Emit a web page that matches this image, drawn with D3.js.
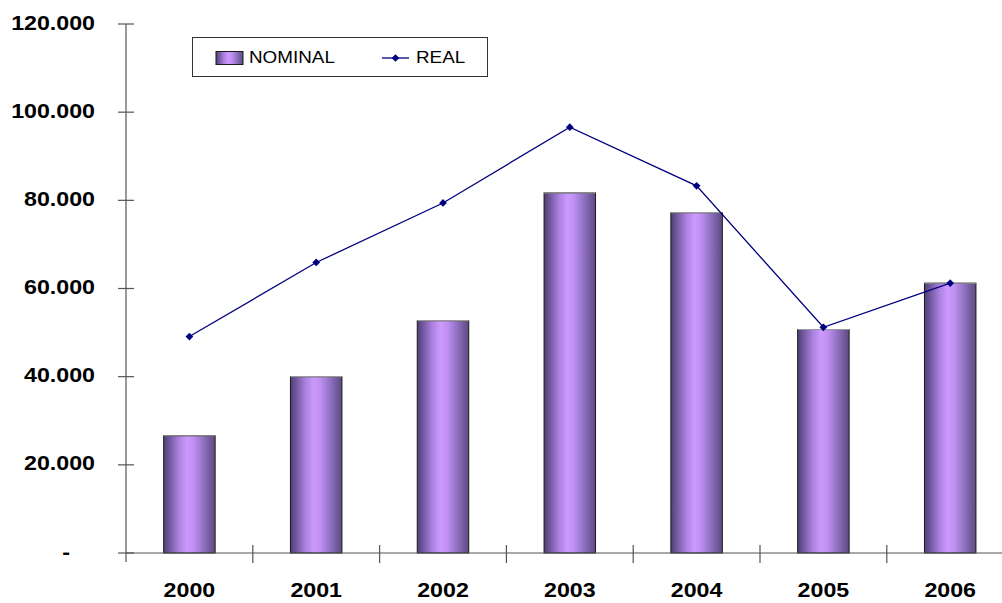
<!DOCTYPE html>
<html>
<head>
<meta charset="utf-8">
<script src="https://cdn.jsdelivr.net/npm/d3@7"></script>
<style>
  html, body { margin: 0; padding: 0; background: #fff; }
  svg { display: block; }
  text { font-family: Arial, "Liberation Sans", sans-serif; }
</style>
</head>
<body>
<svg id="chart" width="1002" height="603"></svg>
<script>
// Yearly values (thousands)
const years = ["2000", "2001", "2002", "2003", "2004", "2005", "2006"];
const nominal = [26.6, 40.0, 52.7, 81.7, 77.2, 50.7, 61.2];
const real = [49.1, 65.9, 79.4, 96.6, 83.3, 51.2, 61.2];
const yTicks = [0, 20, 40, 60, 80, 100, 120];
const yTickLabels = ["-", "20.000", "40.000", "60.000", "80.000", "100.000", "120.000"];
const seriesNames = ["NOMINAL", "REAL"];

const svg = d3.select("#chart");
const W = 1002, H = 603;
const x0 = 126, x1 = 1013.6, yTop = 24, yBottom = 553;
const axisColor = "#555";
const lineColor = "#00007f";
const stretch = 1.19; // wide bold axis lettering

const x = d3.scaleBand().domain(years).range([x0, x1]).paddingInner(0.594).paddingOuter(0.297);
const y = d3.scaleLinear().domain([0, 120]).range([yBottom, yTop]);

// Bar shading: dark edges, bright lilac centre
const defs = svg.append("defs");
const grad = defs.append("linearGradient").attr("id", "barGrad")
  .attr("x1", "0%").attr("x2", "100%").attr("y1", "0%").attr("y2", "0%");
[[0, "#4f3f70"], [0.12, "#7459a3"], [0.3, "#ad82e0"], [0.45, "#cc99ff"], [0.58, "#c190f2"],
 [0.75, "#9575c8"], [0.9, "#735a9c"], [1, "#5e4b80"]]
  .forEach(([o, c]) => grad.append("stop").attr("offset", o).attr("stop-color", c));

// Bars
const bars = svg.append("g");
bars.selectAll("rect").data(years).join("rect")
  .attr("x", d => x(d))
  .attr("y", (d, i) => y(nominal[i]))
  .attr("width", x.bandwidth())
  .attr("height", (d, i) => y(0) - y(nominal[i]))
  .attr("fill", "url(#barGrad)")
  .attr("stroke", "#1a1a1a")
  .attr("stroke-width", 1);
bars.selectAll("line").data(years).join("line")
  .attr("x1", d => x(d)).attr("x2", d => x(d) + x.bandwidth())
  .attr("y1", (d, i) => y(nominal[i])).attr("y2", (d, i) => y(nominal[i]))
  .attr("stroke", "#999").attr("stroke-width", 1.2);

// Y axis
const yAxis = svg.append("g").attr("stroke", axisColor).attr("stroke-width", 1.2);
yAxis.append("line").attr("x1", x0).attr("x2", x0).attr("y1", yTop).attr("y2", yBottom + 9);
yAxis.selectAll("line.tick").data(yTicks).join("line").attr("class", "tick")
  .attr("x1", x0 - 8).attr("x2", x0 + 8)
  .attr("y1", d => y(d)).attr("y2", d => y(d));

const yLab = svg.append("g");
yTicks.forEach((t, i) => {
  const isZero = t === 0;
  const rx = isZero ? 70 : 95;
  yLab.append("text")
    .attr("transform", `translate(${rx},${y(t) + 5.5}) scale(${stretch},1)`)
    .attr("text-anchor", "end")
    .attr("font-size", 19.5).attr("font-weight", "bold").attr("fill", "#000")
    .text(yTickLabels[i]);
});

// X axis with ticks between categories
const xAxis = svg.append("g").attr("stroke", axisColor).attr("stroke-width", 1.2);
xAxis.append("line").attr("x1", x0).attr("x2", W).attr("y1", yBottom).attr("y2", yBottom);
const bounds = years.slice(1).map((d, i) => (x(years[i]) + x.bandwidth() + x(d)) / 2);
xAxis.selectAll("line.tick").data(bounds).join("line").attr("class", "tick")
  .attr("x1", d => d).attr("x2", d => d)
  .attr("y1", yBottom - 8).attr("y2", yBottom + 10);

svg.append("g").selectAll("text").data(years).join("text")
  .attr("transform", d => `translate(${x(d) + x.bandwidth() / 2},597) scale(${stretch},1)`)
  .attr("text-anchor", "middle")
  .attr("font-size", 19.5).attr("font-weight", "bold").attr("fill", "#000")
  .text(d => d);

// Real series line with diamond markers
const cx = d => x(d) + x.bandwidth() / 2;
const line = d3.line().x((d, i) => cx(years[i])).y(d => y(d));
svg.append("path").datum(real)
  .attr("d", line).attr("fill", "none")
  .attr("stroke", lineColor).attr("stroke-width", 1.3);
const diamond = d3.symbol().type(d3.symbolSquare).size(30);
svg.append("g").selectAll("path").data(real).join("path")
  .attr("transform", (d, i) => `translate(${cx(years[i])},${y(d)}) rotate(45)`)
  .attr("d", diamond).attr("fill", lineColor);

// Legend
const lg = svg.append("g");
lg.append("rect").attr("x", 192.5).attr("y", 37.5).attr("width", 295).attr("height", 39)
  .attr("fill", "#fff").attr("stroke", "#333").attr("stroke-width", 1);
lg.append("rect").attr("x", 216).attr("y", 51.5).attr("width", 27).attr("height", 13)
  .attr("fill", "url(#barGrad)").attr("stroke", "#1a1a1a").attr("stroke-width", 1);
lg.append("text").attr("transform", `translate(249,62.5) scale(1.13,1)`)
  .attr("font-size", 16.7).attr("fill", "#000").text(seriesNames[0]);
lg.append("line").attr("x1", 382).attr("x2", 409).attr("y1", 58).attr("y2", 58)
  .attr("stroke", lineColor).attr("stroke-width", 1.3);
lg.append("path").attr("transform", "translate(395.5,58) rotate(45)").attr("d", diamond).attr("fill", lineColor);
lg.append("text").attr("transform", `translate(416,62.5) scale(1.13,1)`)
  .attr("font-size", 16.7).attr("fill", "#000").text(seriesNames[1]);
</script>
</body>
</html>
